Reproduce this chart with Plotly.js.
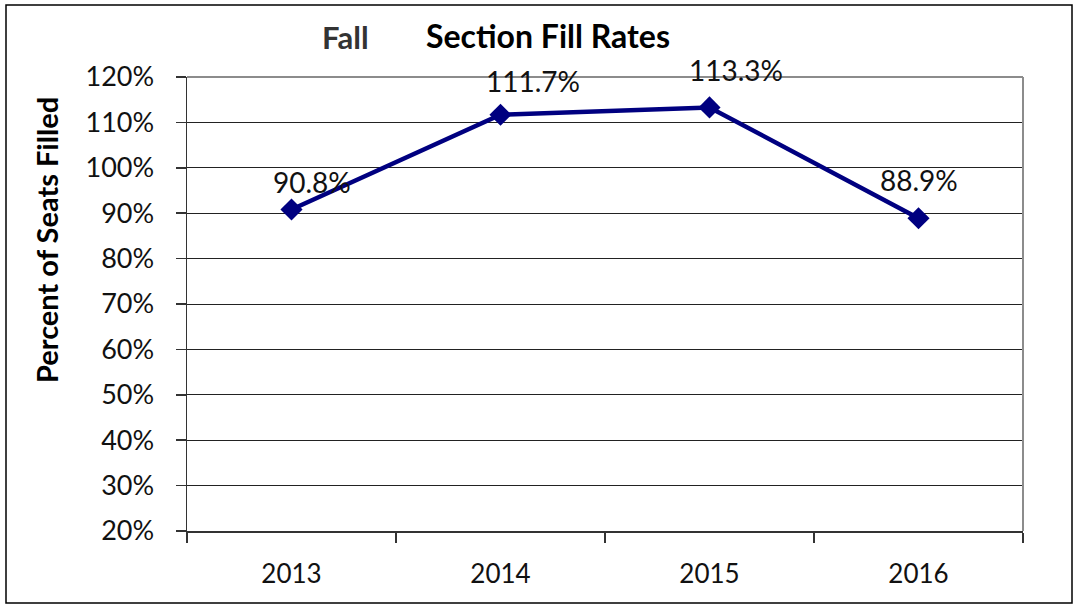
<!DOCTYPE html>
<html>
<head>
<meta charset="utf-8">
<script src="https://cdn.plot.ly/plotly-3.0.1.min.js"></script>
<style>html,body{margin:0;padding:0;background:#fff;}#chart{width:1079px;height:605px;}</style>
</head>
<body>
<div id="chart"></div>
<script>
const years = ['2013', '2014', '2015', '2016'];
const fillRates = [90.8, 111.7, 113.3, 88.9];
const labelTexts = ['90.8%', '111.7%', '113.3%', '88.9%'];
const yTicks = [20, 30, 40, 50, 60, 70, 80, 90, 100, 110, 120];

const labelShift = [[20, 28], [32, 34], [26, 37], [0, 38]];
const FONT = 'Lato, "Open Sans", sans-serif';

const trace = {
  x: years,
  y: fillRates,
  type: 'scatter',
  mode: 'lines+markers',
  line: {color: '#000080', width: 4.5},
  marker: {symbol: 'diamond', size: 17, color: '#000080'},
  hoverinfo: 'skip'
};

const annotations = years.map((yr, i) => ({
  x: i, y: fillRates[i], xref: 'x', yref: 'y',
  xanchor: 'center', yanchor: 'middle',
  text: labelTexts[i], showarrow: false,
  xshift: labelShift[i][0], yshift: labelShift[i][1],
  font: {family: FONT, size: 28, color: '#111'}
}));
annotations.push({
  xref: 'paper', yref: 'paper', x: (345 - 187) / 836, y: (531 - 37) / 454,
  xanchor: 'center', yanchor: 'middle',
  text: '<b>Fall</b>', showarrow: false,
  font: {family: FONT, size: 31, color: '#333'}
});
annotations.push({
  xref: 'paper', yref: 'paper', x: (46 - 187) / 836, y: (531 - 240) / 454,
  xanchor: 'center', yanchor: 'middle',
  text: '<b>Percent of Seats Filled</b>', showarrow: false, textangle: -90,
  font: {family: FONT, size: 29, color: '#000'}
});

const layout = {
  width: 1079, height: 605,
  margin: {l: 187, r: 56, t: 77, b: 74},
  paper_bgcolor: '#fff', plot_bgcolor: '#fff',
  showlegend: false,
  title: {
    text: '<b>Section Fill Rates</b>',
    x: 548 / 1079, xanchor: 'center', y: 1 - 37 / 605, yanchor: 'middle',
    font: {family: FONT, size: 32, color: '#000'}
  },
  xaxis: {
    type: 'category', range: [-0.5, 3.5], tickson: 'boundaries',
    ticks: 'outside', ticklen: 10, tickwidth: 1.5, tickcolor: '#333',
    showline: true, linecolor: '#333', linewidth: 1.5,
    showgrid: false, zeroline: false,
    ticklabelstandoff: 19,
    tickfont: {family: FONT, size: 26, color: '#111'}
  },
  yaxis: {
    range: [20, 120], tickvals: yTicks, ticktext: yTicks.map(v => v + '%'),
    ticks: 'outside', ticklen: 10, tickwidth: 1.5, tickcolor: '#333',
    showline: true, linecolor: '#333', linewidth: 1.5,
    showgrid: true, gridcolor: '#222', gridwidth: 1, zeroline: false,
    ticklabelstandoff: 16,
    tickfont: {family: FONT, size: 27, color: '#111'}
  },
  annotations: annotations,
  shapes: [
    {type: 'line', xref: 'paper', yref: 'paper', x0: 0, x1: 1, y0: 1, y1: 1,
     line: {color: '#8c8c8c', width: 2}, layer: 'above'},
    {type: 'line', xref: 'paper', yref: 'paper', x0: 1, x1: 1, y0: 0, y1: 1,
     line: {color: '#8c8c8c', width: 2}, layer: 'above'},
    {type: 'rect', xref: 'paper', yref: 'paper',
     x0: (6 - 187) / 836, x1: (1072 - 187) / 836,
     y0: (531 - 603) / 454, y1: (531 - 5) / 454,
     line: {color: '#000', width: 1.5}, fillcolor: 'rgba(0,0,0,0)'}
  ]
};

Plotly.newPlot('chart', [trace], layout, {displayModeBar: false, staticPlot: true});
</script>
</body>
</html>
